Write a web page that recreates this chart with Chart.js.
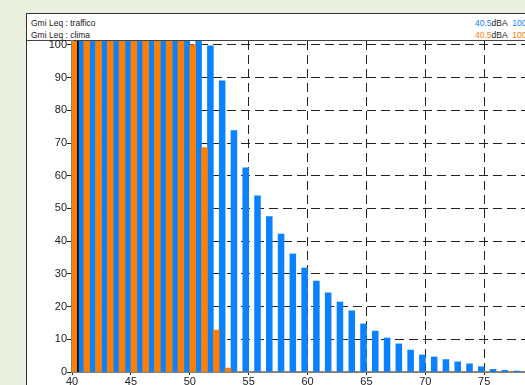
<!DOCTYPE html>
<html lang="it">

<head>
    <meta charset="UTF-8">
    <title>Gmi Leq : traffico / clima</title>
    <script src="https://cdn.jsdelivr.net/npm/chart.js"></script>
    <style>
        html, body {
            margin: 0;
            padding: 0;
            width: 525px;
            height: 385px;
            overflow: hidden;
            background: #e9f0de;
            font-family: "Liberation Sans", Arial, sans-serif;
        }

        .panel {
            position: absolute;
            left: 26px;
            top: 13px;
            width: 620px;
            height: 400px;
            background: #fff;
            border-left: 1px solid #333;
            border-top: 1px solid #333;
        }

        .head-row {
            position: absolute;
            height: 12px;
            line-height: 12px;
            font-size: 8.5px;
            color: #222;
            white-space: nowrap;
        }

        .head-line {
            position: absolute;
            left: 0;
            top: 26px;
            width: 100%;
            border-top: 1px solid #444;
        }

        #chart {
            position: absolute;
            left: 28px;
            top: 31px;
        }
    </style>
</head>

<body>
    <div class="panel">
        <div class="head-row" style="left:4px; top:3px;">Gmi Leq : traffico</div>
        <div class="head-row" style="left:4px; top:15px;">Gmi Leq : clima</div>
        <div class="head-row" id="val-traffico" style="left:448px; top:3px;"></div>
        <div class="head-row" id="val-clima" style="left:448px; top:15px;"></div>
        <div class="head-line"></div>
    </div>
    <canvas id="chart" width="574" height="360"></canvas>

    <script>
        // 1 dB classes (lower edge of each class)
        const bins = [40, 41, 42, 43, 44, 45, 46, 47, 48, 49, 50, 51, 52, 53, 54, 55, 56, 57, 58,
            59, 60, 61, 62, 63, 64, 65, 66, 67, 68, 69, 70, 71, 72, 73, 74, 75, 76, 77];

        // traffico (blue) - classes up to 50 go off the top of the chart
        const traffico = [110, 110, 110, 110, 110, 110, 110, 110, 110, 110, 110, 99.7, 89.0, 73.8,
            62.4, 53.9, 47.5, 42.2, 36.1, 31.8, 27.8, 24.2, 21.4, 18.7, 14.7, 12.5, 10.4, 8.6,
            6.7, 5.2, 4.6, 3.8, 3.1, 2.5, 1.6, 0.8, 0.5, 0.3];

        // clima (orange)
        const clima = [110, 110, 110, 110, 110, 110, 110, 110, 110, 110, 100, 68.6, 12.8, 1.2,
            0.2, 0, 0, 0, 0, 0, 0, 0, 0, 0, 0, 0, 0, 0, 0, 0, 0, 0, 0, 0, 0, 0, 0, 0];

        const xTicks = [40, 45, 50, 55, 60, 65, 70, 75, 80];
        const yTicks = [0, 10, 20, 30, 40, 50, 60, 70, 80, 90, 100];

        // Gmi Leq values shown in the header (dBA) and the percent at that level
        const gmiTraffico = 40.5, pctTraffico = 100;
        const gmiClima = 40.5, pctClima = 100;

        const blue = '#0a82ff';
        const orange = '#ff8000';

        document.getElementById('val-traffico').innerHTML =
            `<span style="color:${blue}">${gmiTraffico}</span>dBA&nbsp;&nbsp;<span style="color:${blue}">${pctTraffico}</span>`;
        document.getElementById('val-clima').innerHTML =
            `<span style="color:${orange}">${gmiClima}</span>dBA&nbsp;&nbsp;<span style="color:${orange}">${pctClima}</span>`;

        // solid cursor line at the Gmi Leq value
        const cursorLine = {
            id: 'cursorLine',
            afterDraw(chart) {
                const { ctx, chartArea, scales } = chart;
                const x = scales.x.getPixelForValue(gmiTraffico);
                ctx.save();
                ctx.strokeStyle = '#000';
                ctx.lineWidth = 1.6;
                ctx.beginPath();
                ctx.moveTo(x, chartArea.top);
                ctx.lineTo(x, chartArea.bottom);
                ctx.stroke();
                ctx.restore();
            }
        };

        const tickFont = { family: '"Liberation Sans", Arial, sans-serif', size: 11 };

        new Chart(document.getElementById('chart'), {
            type: 'bar',
            data: {
                datasets: [{
                    label: 'Gmi Leq : clima',
                    data: bins.map((b, i) => ({ x: b + 0.5, y: clima[i] })),
                    backgroundColor: orange,
                }, {
                    label: 'Gmi Leq : traffico',
                    data: bins.map((b, i) => ({ x: b + 0.5, y: traffico[i] })),
                    backgroundColor: blue,
                }]
            },
            options: {
                responsive: false,
                animation: false,
                layout: { padding: { top: 10, left: 0, right: 0, bottom: 0 } },
                datasets: {
                    bar: { categoryPercentage: 1, barPercentage: 1, borderWidth: 0 }
                },
                plugins: {
                    legend: { display: false },
                    tooltip: { enabled: false }
                },
                scales: {
                    x: {
                        type: 'linear',
                        min: 40,
                        max: 85,
                        offset: false,
                        z: 1,
                        grid: { offset: false, color: '#222', tickColor: '#222', tickLength: 3 },
                        border: { color: '#808080', width: 2, dash: [9, 5] },
                        ticks: { font: tickFont, color: '#222', padding: 0, maxRotation: 0, autoSkip: false },
                        afterBuildTicks: s => { s.ticks = xTicks.map(v => ({ value: v })); },
                        afterFit: s => { s.height = 19; }
                    },
                    y: {
                        min: 0,
                        max: 101.2,
                        z: 1,
                        grid: { color: '#222', tickColor: '#222', tickLength: 5 },
                        border: { color: '#808080', width: 2, dash: [9, 5] },
                        ticks: { font: tickFont, color: '#222', padding: 0 },
                        afterBuildTicks: s => { s.ticks = yTicks.map(v => ({ value: v })); },
                        afterFit: s => { s.width = 44; }
                    }
                }
            },
            plugins: [cursorLine]
        });
    </script>
</body>

</html>
